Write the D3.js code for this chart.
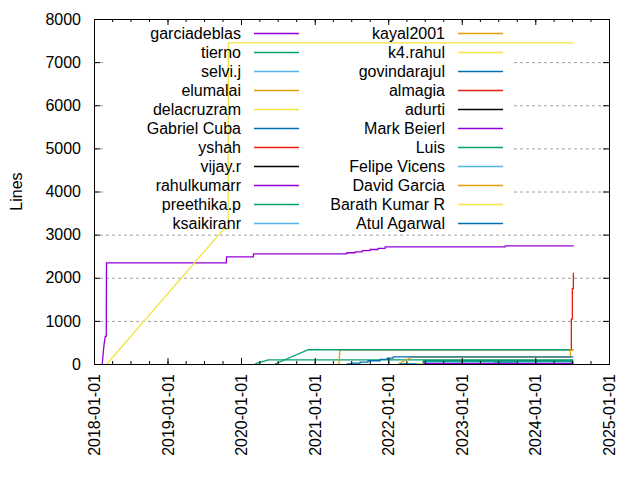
<!DOCTYPE html>
<html>
<head>
<meta charset="utf-8">
<script src="https://d3js.org/d3.v7.min.js"></script>
<style>
  body { margin: 0; background: #fff; }
  svg { display: block; font-family: "Liberation Sans", Arial, sans-serif; }
</style>
</head>
<body>
<svg id="chart"></svg>
<script>
// lines per author over time
var END = "2024-07-08";

var garciadeblas = [["2018-02-11", 0], ["2018-02-16", 270], ["2018-02-21", 490], ["2018-02-26", 640], ["2018-03-03", 640],
    ["2018-03-04", 2345], ["2019-10-20", 2345], ["2019-10-21", 2485], ["2020-03-02", 2485], ["2020-03-03", 2555],
    ["2021-06-09", 2555], ["2021-06-10", 2580], ["2021-07-20", 2580], ["2021-07-21", 2600], ["2021-08-24", 2600],
    ["2021-08-25", 2630], ["2021-10-02", 2630], ["2021-10-03", 2655], ["2021-11-11", 2655], ["2021-11-12", 2680],
    ["2021-12-16", 2680], ["2021-12-17", 2718], ["2023-08-04", 2718], ["2023-08-05", 2740], ["2024-07-10", 2740]];
var tierno = [["2020-03-10", 0], ["2020-03-27", 30], ["2020-04-13", 50], ["2020-05-15", 95], [END, 95]];
var selvij = [["2024-07-01", 0], [END, 8]];
var elumalai = [["2021-05-01", 0], ["2021-05-03", 140], ["2021-05-06", 330], ["2024-06-23", 330]];
var delacruzram = [["2018-03-06", 0], ["2019-10-08", 3135], ["2019-10-29", 3135], ["2019-10-30", 7445], ["2024-07-07", 7445]];
var gabrielCuba = [["2023-06-10", 22], ["2023-09-27", 22]];
var yshah = [["2024-07-06", 0], [END, 5]];
var vijayr = [["2024-06-28", 0], ["2024-07-03", 30], [END, 30]];
var rahulkumarr = [["2022-06-30", 0], ["2022-07-01", 10], [END, 10]];
var preethikap = [["2020-06-18", 0], ["2020-11-30", 330], [END, 330]];
var ksaikiranr = [["2024-07-03", 0], [END, 5]];
var kayal2001 = [["2022-02-20", 0], ["2022-04-27", 160], ["2024-06-23", 160], ["2024-06-24", 330], [END, 330]];
var k4rahul = [["2024-07-06", 0], [END, 3]];
var govindarajul = [["2022-02-27", 4], ["2022-06-23", 4], ["2022-06-24", 50], [END, 50]];
var almagia = [["2024-06-28", 335], ["2024-06-28", 1040], ["2024-07-03", 1040], ["2024-07-03", 1750], [END, 1750], [END, 2115]];
var adurti = [["2024-07-03", 0], [END, 15]];
var markBeierl = [["2024-07-03", 0], [END, 6]];
var luis = [["2022-06-24", 0], ["2022-06-25", 75], [END, 75]];
var felipeVicens = [["2024-07-05", 0], [END, 4]];
var davidGarcia = [["2024-07-05", 0], [END, 20]];
var barathKumarR = [["2022-05-22", 4], ["2022-06-24", 4]];
var atulAgarwal = [["2021-06-09", 0], ["2021-07-03", 0], ["2021-07-04", 20], ["2021-08-14", 20], ["2021-08-15", 45],
    ["2021-09-22", 45], ["2021-09-23", 75], ["2021-11-21", 75], ["2021-11-22", 105], ["2021-12-26", 105],
    ["2021-12-27", 135], ["2022-01-25", 135], ["2022-01-26", 165], [END, 165]];

var authors = ["garciadeblas", "tierno", "selvi.j", "elumalai", "delacruzram", "Gabriel Cuba", "yshah", "vijay.r",
    "rahulkumarr", "preethika.p", "ksaikiranr", "kayal2001", "k4.rahul", "govindarajul", "almagia", "adurti",
    "Mark Beierl", "Luis", "Felipe Vicens", "David Garcia", "Barath Kumar R", "Atul Agarwal"];
var series = [garciadeblas, tierno, selvij, elumalai, delacruzram, gabrielCuba, yshah, vijayr,
    rahulkumarr, preethikap, ksaikiranr, kayal2001, k4rahul, govindarajul, almagia, adurti,
    markBeierl, luis, felipeVicens, davidGarcia, barathKumarR, atulAgarwal];
var colors = ["#9400d3", "#009e73", "#56b4e9", "#e69f00", "#f0e442", "#0072b2", "#e51e10", "#000000"];
var xDomain = ["2018-01-01", "2025-01-01"];
var yTicks = [0, 1000, 2000, 3000, 4000, 5000, 6000, 7000, 8000];
var gridTicks = [1000, 2000, 3000, 4000, 5000, 6000, 7000];

var svgWidth = 640, svgHeight = 480;
var margin = { top: 19, right: 31, bottom: 116, left: 94 };
var width = svgWidth - margin.left - margin.right;
var height = svgHeight - margin.top - margin.bottom;
var parse = d3.utcParse("%Y-%m-%d");
var font = '"Liberation Sans", Arial, sans-serif';

var svg = d3.select("#chart").attr("width", svgWidth).attr("height", svgHeight);
var g = svg.append("g").attr("transform", "translate(" + margin.left + "," + margin.top + ")");

//scales
var x = d3.scaleUtc().domain(xDomain.map(parse)).range([0, width]);
var y = d3.scaleLinear().domain([0, 8000]).range([height, 0]);

//grid
var grid = g.append("g")
    .call(d3.axisLeft(y).tickValues(gridTicks).tickSize(-width).tickFormat(""));
grid.select(".domain").remove();
grid.selectAll("line").attr("stroke", "#a0a0a0").attr("stroke-dasharray", "3,3");

// key background hides the grid, lines go over it
g.append("rect")
    .attr("x", 9).attr("y", 1).attr("width", 411).attr("height", 212)
    .attr("fill", "#fff");

//draw lines
var line = d3.line()
    .x(function (d) { return x(parse(d[0])); })
    .y(function (d) { return y(d[1]); });

g.selectAll("path.series")
    .data(series)
    .enter().append("path")
    .attr("class", "series")
    .attr("fill", "none")
    .attr("stroke", function (d, i) { return colors[i % 8]; })
    .attr("stroke-width", 1.3)
    .attr("d", line);

//key
var key = svg.append("g").attr("font-family", font).attr("font-size", 16);
authors.forEach(function (name, i) {
    var col = i < 11 ? 0 : 1;
    var row = i % 11;
    var ky = 33.5 + row * 19;
    key.append("text")
        .attr("x", col ? 445 : 241)
        .attr("y", ky)
        .attr("dy", "0.35em")
        .attr("text-anchor", "end")
        .attr("fill", "#000")
        .text(name);
    key.append("line")
        .attr("x1", col ? 458 : 254).attr("x2", col ? 503 : 299)
        .attr("y1", ky).attr("y2", ky)
        .attr("stroke", colors[i % 8])
        .attr("stroke-width", 1.3);
});

//x axis, bottom
var xMinor = g.append("g").attr("transform", "translate(0," + height + ")")
    .call(d3.axisBottom(x).ticks(d3.utcMonth.every(3)).tickSize(-3).tickFormat(""));
var xAxis = g.append("g").attr("transform", "translate(0," + height + ")")
    .call(d3.axisBottom(x).ticks(d3.utcYear.every(1)).tickFormat(d3.utcFormat("%Y-%m-%d")).tickSize(-6));
xAxis.selectAll("text")
    .attr("font-size", 16)
    .attr("font-family", font)
    .attr("fill", "#000")
    .attr("text-anchor", "end")
    .attr("transform", "rotate(-90)")
    .attr("x", -10)
    .attr("y", 0)
    .attr("dy", "0.35em");

//x axis, top (mirror)
var xTopMinor = g.append("g")
    .call(d3.axisTop(x).ticks(d3.utcMonth.every(3)).tickSize(-3).tickFormat(""));
var xTop = g.append("g")
    .call(d3.axisTop(x).ticks(d3.utcYear.every(1)).tickSize(-6).tickFormat(""));

//y axis
var yAxis = g.append("g")
    .call(d3.axisLeft(y).tickValues(yTicks).tickFormat(d3.format("d")).tickSize(-6).tickPadding(13));
yAxis.selectAll("text")
    .attr("font-size", 16)
    .attr("font-family", font)
    .attr("fill", "#000");
var yRight = g.append("g").attr("transform", "translate(" + width + ",0)")
    .call(d3.axisRight(y).tickValues(yTicks).tickSize(-6).tickFormat(""));

[xMinor, xAxis, xTopMinor, xTop, yAxis, yRight].forEach(function (a) {
    a.select(".domain").remove();
    a.selectAll("line").attr("stroke", "#000");
});

//border
g.append("rect")
    .attr("x", 0.5).attr("y", 0.5)
    .attr("width", width).attr("height", height)
    .attr("fill", "none")
    .attr("stroke", "#000");

//y label
svg.append("text")
    .attr("transform", "translate(16," + (margin.top + height / 2) + ") rotate(-90)")
    .attr("text-anchor", "middle")
    .attr("dy", "0.35em")
    .attr("font-family", font)
    .attr("font-size", 16)
    .text("Lines");
</script>
</body>
</html>
